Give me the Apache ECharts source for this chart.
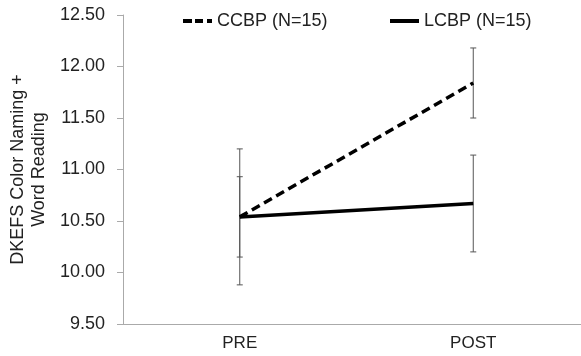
<!DOCTYPE html>
<html>
<head>
<meta charset="utf-8">
<script src="https://cdn.jsdelivr.net/npm/echarts@6/dist/echarts.min.js"></script>
<style>
  html, body { margin: 0; padding: 0; background: #fff; }
  #chart { width: 581px; height: 356px; }
</style>
</head>
<body>
<div id="chart"></div>
<script>
// time points
const phases = ['PRE', 'POST'];

// group means
const ccbpMean = [10.54, 11.84];
const lcbpMean = [10.54, 10.67];

// error bar half-widths
const ccbpErr = [0.39, 0.34];
const lcbpErr = [0.66, 0.47];

const yTicks = { min: 9.5, max: 12.5, step: 0.5 };

const fontName = '"Liberation Sans", Arial, sans-serif';
const textColor = '#222';

// build [x, low, high] rows for the error bars
function errRows(mean, err) {
    return phases.map((p, i) => [i, mean[i] - err[i], mean[i] + err[i]]);
}

function renderErr(params, api) {
    const x = api.value(0);
    const lo = api.coord([x, api.value(1)]);
    const hi = api.coord([x, api.value(2)]);
    const cap = 3;
    const style = { stroke: '#555', lineWidth: 1 };
    return {
        type: 'group',
        children: [
            { type: 'line', shape: { x1: hi[0], y1: hi[1], x2: lo[0], y2: lo[1] }, style: style },
            { type: 'line', shape: { x1: hi[0] - cap, y1: hi[1], x2: hi[0] + cap, y2: hi[1] }, style: style },
            { type: 'line', shape: { x1: lo[0] - cap, y1: lo[1], x2: lo[0] + cap, y2: lo[1] }, style: style }
        ]
    };
}

const legendText = { fontFamily: fontName, fontSize: 18, color: textColor };
// legend line samples: dashed and solid
const dashIcon = 'path://M0,0h9v4h-9z M12,0h8v4h-8z M24,0h5v4h-5z';
const solidIcon = 'path://M0,0h29v4h-29z';

let option = {
    animation: false,
    backgroundColor: '#fff',
    grid: { left: 123, right: -9, top: 15, bottom: 32, outerBoundsMode: 'none', containLabel: false },
    legend: [
        {
            data: [{ name: 'CCBP (N=15)', icon: dashIcon }], left: 178, top: 7,
            itemWidth: 29, itemHeight: 4, itemStyle: { color: '#000' }, textStyle: legendText
        },
        {
            data: [{ name: 'LCBP (N=15)', icon: solidIcon }], left: 385, top: 7,
            itemWidth: 29, itemHeight: 4, itemStyle: { color: '#000' }, textStyle: legendText
        }
    ],
    xAxis: {
        type: 'category',
        data: phases,
        axisLine: { lineStyle: { color: '#aaa', width: 1 } },
        axisTick: { length: 3, lineStyle: { color: '#ccc' } },
        axisLabel: { fontFamily: fontName, fontSize: 17, color: textColor, margin: 11 }
    },
    yAxis: {
        type: 'value',
        min: yTicks.min,
        max: yTicks.max,
        interval: yTicks.step,
        name: 'DKEFS Color Naming +\nWord Reading',
        nameLocation: 'middle',
        nameGap: 64,
        nameTextStyle: { fontFamily: fontName, fontSize: 18, color: textColor, lineHeight: 21 },
        axisLine: { show: true, lineStyle: { color: '#aaa', width: 1 } },
        axisTick: { show: true, length: 6, lineStyle: { color: '#aaa' } },
        splitLine: { show: false },
        axisLabel: {
            fontFamily: fontName, fontSize: 18, color: textColor, margin: 18,
            formatter: v => v.toFixed(2)
        }
    },
    series: [
        {
            name: 'ccbpErr',
            type: 'custom',
            renderItem: renderErr,
            data: errRows(ccbpMean, ccbpErr),
            encode: { x: 0, y: [1, 2] },
            itemStyle: { color: '#555' },
            z: 1
        },
        {
            name: 'lcbpErr',
            type: 'custom',
            renderItem: renderErr,
            data: errRows(lcbpMean, lcbpErr),
            encode: { x: 0, y: [1, 2] },
            itemStyle: { color: '#555' },
            z: 1
        },
        {
            name: 'LCBP (N=15)',
            type: 'line',
            symbol: 'none',
            data: lcbpMean,
            lineStyle: { color: '#000', width: 3.5 },
            itemStyle: { color: '#000' },
            z: 3
        },
        {
            name: 'CCBP (N=15)',
            type: 'line',
            symbol: 'none',
            data: ccbpMean,
            lineStyle: { color: '#000', width: 3.5, type: [9, 5] },
            itemStyle: { color: '#000' },
            z: 4
        }
    ]
};

let chart = echarts.init(document.getElementById('chart'));
chart.setOption(option);
</script>
</body>
</html>
